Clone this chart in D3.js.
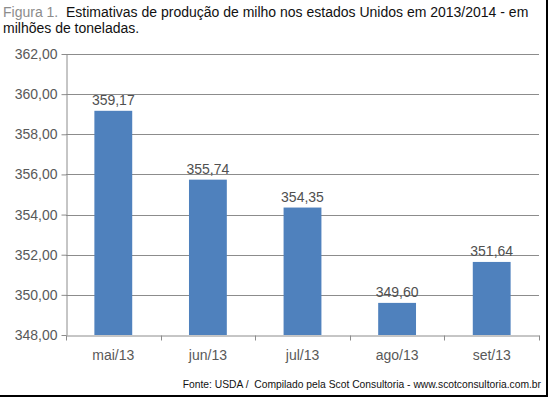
<!DOCTYPE html>
<html>
<head>
<meta charset="utf-8">
<script src="https://cdn.jsdelivr.net/npm/d3@7"></script>
<style>
  body { margin: 0; background: #fff; }
  text { font-family: "Liberation Sans", Arial, sans-serif; }
</style>
</head>
<body>
<div id="chart"></div>
<script>
// Chart data
const months = ["mai/13", "jun/13", "jul/13", "ago/13", "set/13"];
const production = [359.17, 355.74, 354.35, 349.60, 351.64];
const yTicks = [348, 350, 352, 354, 356, 358, 360, 362];

const W = 548, H = 397;
let margin = { top: 54, right: 9, bottom: 62, left: 66 },
    width = W - margin.left - margin.right,
    height = H - margin.top - margin.bottom;

const fmt = v => v.toFixed(2).replace(".", ",");

let root = d3.select("#chart").append("svg")
    .attr("width", W)
    .attr("height", H);

root.append("rect").attr("width", W).attr("height", H).attr("fill", "#fff");

// Title
let title = root.append("text").attr("x", 3).attr("y", 17)
    .style("font-size", "14px").style("white-space", "pre");
title.append("tspan").attr("fill", "#8c8c8c").text("Figura 1.  ");
title.append("tspan").attr("fill", "#111").text("Estimativas de produção de milho nos estados Unidos em 2013/2014 - em");
root.append("text").attr("x", 3).attr("y", 33)
    .style("font-size", "14px").attr("fill", "#111")
    .text("milhões de toneladas.");

let svg = root.append("g")
    .attr("transform", `translate(${margin.left}, ${margin.top})`);

let x = d3.scaleBand().domain(months).range([0, width]).paddingInner(0.6).paddingOuter(0.3);
let y = d3.scaleLinear().domain([348, 362]).range([height, 0]);

// Gridlines
svg.append("g")
    .selectAll("line")
    .data(yTicks.slice(1))
    .join("line")
    .attr("x1", 0).attr("x2", width)
    .attr("y1", d => Math.round(y(d)) + 0.5).attr("y2", d => Math.round(y(d)) + 0.5)
    .attr("stroke", "#8c8c8c");

// Bars
svg.selectAll("rect.bar")
    .data(production)
    .join("rect")
    .attr("class", "bar")
    .attr("x", (d, i) => x(months[i]))
    .attr("y", d => y(d))
    .attr("width", x.bandwidth())
    .attr("height", d => height - y(d))
    .attr("fill", "#4f81bd");

// Value labels
svg.selectAll("text.val")
    .data(production)
    .join("text")
    .attr("class", "val")
    .attr("x", (d, i) => x(months[i]) + x.bandwidth() / 2)
    .attr("y", d => y(d) - 6)
    .attr("text-anchor", "middle")
    .attr("fill", "#505050")
    .style("font-size", "14px")
    .text(fmt);

// Y axis
let yAxis = svg.append("g")
    .attr("transform", "translate(0.5,0)")
    .call(d3.axisLeft(y).tickValues(yTicks).tickFormat(fmt).tickSize(5).tickSizeOuter(0));
yAxis.select(".domain").attr("stroke", "#8c8c8c");
yAxis.selectAll(".tick line").attr("stroke", "#8c8c8c");
yAxis.selectAll(".tick text")
    .attr("fill", "#595959")
    .attr("x", -9)
    .style("font-size", "14px")
    .style("font-family", "Liberation Sans, Arial, sans-serif");

// X axis
let xAxis = svg.append("g")
    .attr("transform", `translate(0,${Math.round(height) + 0.5})`)
    .call(d3.axisBottom(x).tickSize(0).tickSizeOuter(0));
xAxis.select(".domain").attr("stroke", "#8c8c8c");
xAxis.selectAll(".tick text")
    .attr("fill", "#595959")
    .attr("dy", "1.55em")
    .style("font-size", "14px")
    .style("font-family", "Liberation Sans, Arial, sans-serif");
// Category separators
xAxis.append("g")
    .selectAll("line")
    .data(d3.range(months.length + 1))
    .join("line")
    .attr("x1", i => Math.round(i * width / months.length) + 0.5)
    .attr("x2", i => Math.round(i * width / months.length) + 0.5)
    .attr("y1", 0).attr("y2", 5)
    .attr("stroke", "#8c8c8c");

// Source
root.append("text")
    .attr("x", 541).attr("y", 388)
    .attr("text-anchor", "end")
    .attr("fill", "#111")
    .style("font-size", "10.3px")
    .style("white-space", "pre")
    .text("Fonte: USDA /  Compilado pela Scot Consultoria - www.scotconsultoria.com.br");

// Frame edges (right and bottom)
root.append("line").attr("x1", W - 1).attr("x2", W - 1).attr("y1", 0).attr("y2", H)
    .attr("stroke", "#000").attr("stroke-width", 2);
root.append("line").attr("x1", 0).attr("x2", W).attr("y1", H - 1).attr("y2", H - 1)
    .attr("stroke", "#000").attr("stroke-width", 2);
</script>
</body>
</html>
